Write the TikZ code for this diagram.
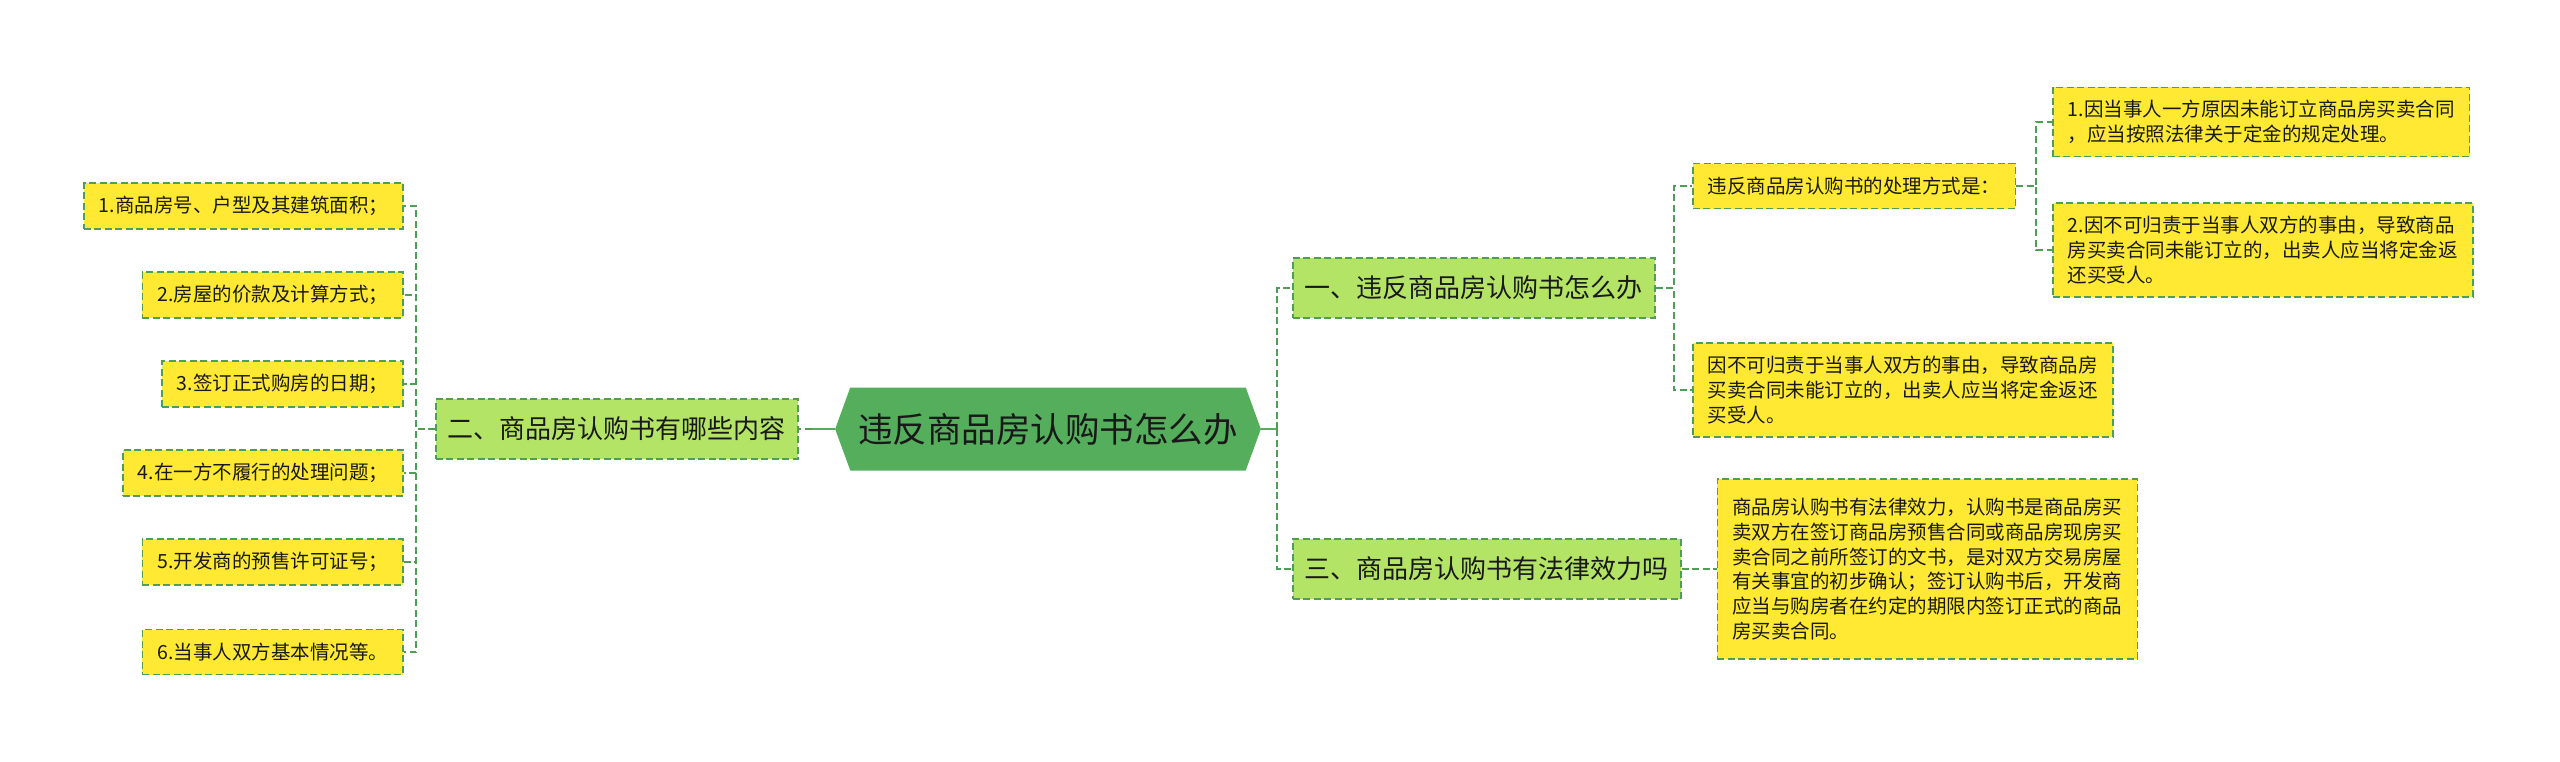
\documentclass[tikz,border=0pt]{standalone}
\usepackage{fontspec}
\newfontfamily\cjk{Noto Sans CJK SC}
\usetikzlibrary{positioning,shapes.symbols}

\definecolor{rootgreen}{HTML}{55AE5C}
\definecolor{topicgreen}{HTML}{B4E465}
\definecolor{noteyellow}{HTML}{FFE933}
\definecolor{edgegreen}{HTML}{4E9F55}

\begin{document}
\begin{tikzpicture}[
    x=0.5pt, y=-0.5pt,
    root/.style={signal, signal to=east and west, signal pointer angle=140,
        fill=rootgreen, text=black!90, inner xsep=4pt, minimum height=41.5pt,
        font=\cjk\fontsize{17.25pt}{20pt}\selectfont},
    topic/.style={draw=edgegreen, dash pattern=on 3.5pt off 1.75pt,
        line width=0.8pt, fill=topicgreen, text=black!90, inner xsep=6pt,
        minimum height=30pt, font=\cjk\fontsize{13pt}{16pt}\selectfont},
    note/.style={topic, fill=noteyellow, align=left, inner xsep=7.5pt,
        inner ysep=6.5pt, minimum height=22.5pt,
        font=\cjk\fontsize{9.75pt}{12.4pt}\selectfont},
    link/.style={draw=edgegreen, line width=0.9pt, dash pattern=on 3.5pt off 1.75pt},
    trunk/.style={draw=rootgreen, line width=1.2pt}
]
\useasboundingbox (0,0) rectangle (2560,761);

\node[root] (root) at (1048,429) {违反商品房认购书怎么办};

\node[topic, left=18pt of root] (contents) {二、商品房认购书有哪些内容};
\node[note, anchor=east] (item1) at (404,206) {1.商品房号、户型及其建筑面积；};
\node[note, anchor=east] (item2) at (404,295) {2.房屋的价款及计算方式；};
\node[note, anchor=east] (item3) at (404,384) {3.签订正式购房的日期；};
\node[note, anchor=east] (item4) at (404,473) {4.在一方不履行的处理问题；};
\node[note, anchor=east] (item5) at (404,562) {5.开发商的预售许可证号；};
\node[note, anchor=east] (item6) at (404,652) {6.当事人双方基本情况等。};

\node[topic, anchor=west] (breach) at (1292,288) {一、违反商品房认购书怎么办};
\node[note, anchor=west] (handling) at (1692,186) {违反商品房认购书的处理方式是：};
\node[note, anchor=west] (refund) at (1692,390) {因不可归责于当事人双方的事由，导致商品房\\买卖合同未能订立的，出卖人应当将定金返还\\买受人。};
\node[note, anchor=west] (way1) at (2052,122) {1.因当事人一方原因未能订立商品房买卖合同\\，应当按照法律关于定金的规定处理。};
\node[note, anchor=west] (way2) at (2052,250) {2.因不可归责于当事人双方的事由，导致商品\\房买卖合同未能订立的，出卖人应当将定金返\\还买受人。};

\node[topic, anchor=west] (validity) at (1292,569) {三、商品房认购书有法律效力吗};
\node[note, inner ysep=9.5pt, right=17.5pt of validity] (effect) {商品房认购书有法律效力，认购书是商品房买\\卖双方在签订商品房预售合同或商品房现房买\\卖合同之前所签订的文书，是对双方交易房屋\\有关事宜的初步确认；签订认购书后，开发商\\应当与购房者在约定的期限内签订正式的商品\\房买卖合同。};

\coordinate (rjoin) at ([xshift=8pt]root.east);
\coordinate (ljoin) at ([xshift=-11.5pt]root.west);
\draw[trunk] (root.east) -- (rjoin);
\draw[trunk] (root.west) -- (ljoin);
\draw[link] (ljoin) -- (contents.east);
\draw[link] (rjoin) |- (breach.west);
\draw[link] (rjoin) |- (validity.west);

\draw[link] (contents.west) -- ++(-19,0) |- (item1.east);
\draw[link] (contents.west) -- ++(-19,0) |- (item2.east);
\draw[link] (contents.west) -- ++(-19,0) |- (item3.east);
\draw[link] (contents.west) -- ++(-19,0) |- (item4.east);
\draw[link] (contents.west) -- ++(-19,0) |- (item5.east);
\draw[link] (contents.west) -- ++(-19,0) |- (item6.east);

\draw[link] (breach.east) -- ++(18,0) |- (handling.west);
\draw[link] (breach.east) -- ++(18,0) |- (refund.west);
\draw[link] (handling.east) -- ++(20,0) |- (way1.west);
\draw[link] (handling.east) -- ++(20,0) |- (way2.west);
\draw[link] (validity.east) -- (effect.west);
\end{tikzpicture}
\end{document}
